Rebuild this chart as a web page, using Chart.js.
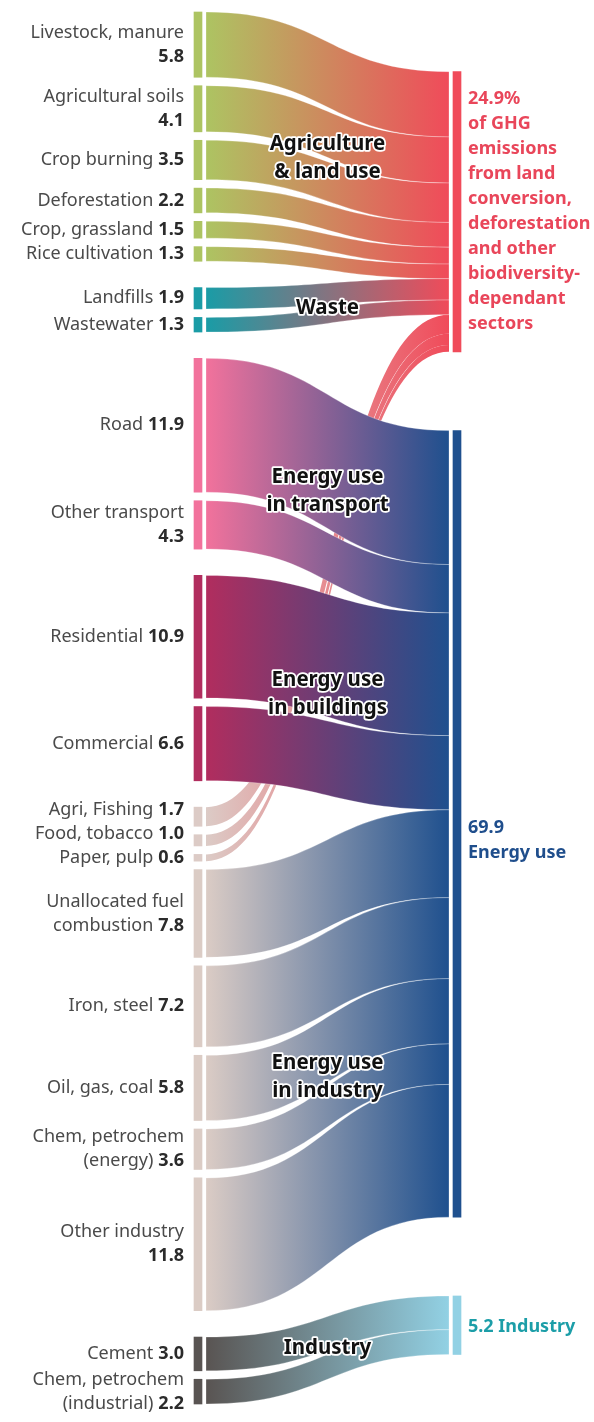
<!DOCTYPE html>
<html>
<head>
<meta charset="utf-8">
<script src="https://cdn.jsdelivr.net/npm/chart.js@4.4.1/dist/chart.umd.min.js"></script>
<style>
  html, body { margin: 0; padding: 0; background: #fff; }
  canvas { display: block; }
</style>
</head>
<body>
<canvas id="chart" width="594" height="1422"></canvas>
<script>
// GHG emissions by source (%) flowing into three totals

const leftNames = [
  'Livestock, manure\n', 'Agricultural soils\n', 'Crop burning', 'Deforestation',
  'Crop, grassland', 'Rice cultivation',
  'Landfills', 'Wastewater',
  'Road', 'Other transport\n',
  'Residential', 'Commercial',
  'Agri, Fishing', 'Food, tobacco', 'Paper, pulp',
  'Unallocated fuel\ncombustion', 'Iron, steel', 'Oil, gas, coal',
  'Chem, petrochem\n(energy)', 'Other industry\n',
  'Cement', 'Chem, petrochem\n(industrial)'
];
const leftValues = [
  5.8, 4.1, 3.5, 2.2, 1.5, 1.3,
  1.9, 1.3,
  11.9, 4.3,
  10.9, 6.6,
  1.7, 1.0, 0.6,
  7.8, 7.2, 5.8, 3.6, 11.8,
  3.0, 2.2
];
// which family (middle label / colour) each source belongs to
const leftFamily = [0, 0, 0, 0, 0, 0, 1, 1, 2, 2, 3, 3, 4, 4, 4, 5, 5, 5, 5, 5, 6, 6];
// visual block on the left axis (sources in one block sit closer together)
const leftBlock = [0, 0, 0, 0, 0, 0, 1, 1, 2, 2, 3, 3, 4, 4, 4, 4, 4, 4, 4, 4, 5, 5];
// which total each source flows into
const leftTarget = [0, 0, 0, 0, 0, 0, 0, 0, 1, 1, 1, 1, 0, 0, 0, 1, 1, 1, 1, 1, 2, 2];

const familyNames = [
  'Agriculture\n& land use', 'Waste', 'Energy use\nin transport',
  'Energy use\nin buildings', '', 'Energy use\nin industry', 'Industry'
];
const rightLabels = [
  '{v}%\nof GHG\nemissions\nfrom land\nconversion,\ndeforestation\nand other\nbiodiversity-\ndependant\nsectors',
  '{v}\nEnergy use',
  '{v} Industry'
];

// styles
const familyColors = ['#adc462', '#1a9ca6', '#f2729c', '#b12d5e', '#dccbc6', '#dbccc5', '#595452'];
const rightColors = ['#f04b5a', '#1f508e', '#92d1e4'];
const rightTextColors = ['#e9465a', '#1f4e8c', '#1c9ea8'];
const rightTextShift = [0, 16, 2];
const familyLabelShift = [2, 5, 3, -1, 0, 25, 0];
const GAP_IN = 0.75;    // gap between sources in a block (value units)
const GAP_BLOCK = 2.34; // gap between blocks
const RIGHT_TOP = 5.3;
const RIGHT_GAP = 7.0;
const FONT = '"Noto Sans", "Open Sans", sans-serif';

// stack the sources on the left
const leftSpans = [];
let pos = 0;
leftValues.forEach((v, i) => {
  if (i > 0) pos += leftBlock[i] === leftBlock[i - 1] ? GAP_IN : GAP_BLOCK;
  leftSpans.push([pos, pos + v]);
  pos += v;
});
const yMax = pos;

// totals on the right, flows stacked in source order
const rightTotals = rightLabels.map((_, r) =>
  leftValues.reduce((s, v, i) => s + (leftTarget[i] === r ? v : 0), 0));
const rightSpans = [];
let rpos = RIGHT_TOP;
rightTotals.forEach((t, r) => {
  if (r > 0) rpos += RIGHT_GAP;
  rightSpans.push([rpos, rpos + t]);
  rpos += t;
});
const flowRight = [];
const fill = rightSpans.map(s => s[0]);
leftValues.forEach((v, i) => {
  const r = leftTarget[i];
  flowRight.push([fill[r], fill[r] + v]);
  fill[r] += v;
});

const sankeyPlugin = {
  id: 'sankeyFlows',
  beforeDatasetsDraw(chart) {
    const { ctx, scales: { x, y } } = chart;
    const xl = x.getPixelForValue(0) + 8;
    const xr = x.getPixelForValue(1) - 8;
    const xm = (xl + xr) / 2;
    // pale flows go behind the others
    const order = leftValues.map((_, i) => i)
      .sort((a, b) => (leftFamily[b] === 4) - (leftFamily[a] === 4));
    ctx.save();
    order.forEach(i => {
      const t0 = y.getPixelForValue(leftSpans[i][0]);
      const b0 = y.getPixelForValue(leftSpans[i][1]);
      const t1 = y.getPixelForValue(flowRight[i][0]);
      const b1 = y.getPixelForValue(flowRight[i][1]);
      const grad = ctx.createLinearGradient(xl, 0, xr, 0);
      grad.addColorStop(0, familyColors[leftFamily[i]]);
      grad.addColorStop(1, rightColors[leftTarget[i]]);
      ctx.beginPath();
      ctx.moveTo(xl, t0);
      ctx.bezierCurveTo(xm, t0, xm, t1, xr, t1);
      ctx.lineTo(xr, b1);
      ctx.bezierCurveTo(xm, b1, xm, b0, xl, b0);
      ctx.closePath();
      ctx.fillStyle = grad;
      ctx.fill();
      if (leftFamily[i] !== 4) {
        ctx.strokeStyle = 'rgba(255,255,255,0.45)';
        ctx.lineWidth = 0.6;
        ctx.stroke();
      }
    });
    ctx.restore();
  },
  afterDatasetsDraw(chart) {
    const { ctx, scales: { x, y } } = chart;
    const xl = x.getPixelForValue(0) + 8;
    const xr = x.getPixelForValue(1) - 8;
    ctx.save();

    // family labels in the middle of the flows
    ctx.font = 'bold 20.5px ' + FONT;
    ctx.textAlign = 'center';
    ctx.textBaseline = 'middle';
    ctx.lineJoin = 'round';
    familyNames.forEach((name, f) => {
      if (!name) return;
      const idx = leftValues.map((_, i) => i).filter(i => leftFamily[i] === f);
      const lc = (leftSpans[idx[0]][0] + leftSpans[idx[idx.length - 1]][1]) / 2;
      const rc = (flowRight[idx[0]][0] + flowRight[idx[idx.length - 1]][1]) / 2;
      const cy = y.getPixelForValue((lc + rc) / 2) + familyLabelShift[f];
      const lines = name.split('\n');
      lines.forEach((ln, k) => {
        const ly = cy + (k - (lines.length - 1) / 2) * 28;
        ctx.strokeStyle = '#fff';
        ctx.lineWidth = 3.5;
        ctx.strokeText(ln, (xl + xr) / 2, ly);
        ctx.fillStyle = '#111';
        ctx.fillText(ln, (xl + xr) / 2, ly);
      });
    });

    // source labels, right aligned, nudged apart where they would collide
    const LH = 24;
    const centers = leftSpans.map(s => y.getPixelForValue((s[0] + s[1]) / 2));
    const heights = leftNames.map(n => n.split('\n').length * LH);
    for (let i = centers.length - 2; i >= 0; i--) {
      const limit = centers[i + 1] - heights[i + 1] / 2 - heights[i] / 2;
      if (centers[i] > limit) centers[i] = limit;
    }
    const lx = x.getPixelForValue(0) - 14;
    ctx.textAlign = 'right';
    leftNames.forEach((name, i) => {
      const lines = name.split('\n');
      const val = leftValues[i].toFixed(1);
      lines.forEach((ln, k) => {
        const ly = centers[i] + (k - (lines.length - 1) / 2) * LH;
        let vx = lx;
        if (k === lines.length - 1) {
          ctx.font = 'bold 18px ' + FONT;
          ctx.fillStyle = '#2b2b2b';
          ctx.fillText(val, lx, ly);
          vx = lx - ctx.measureText(val).width - (ln ? 5 : 0);
        }
        if (ln) {
          ctx.font = '18px ' + FONT;
          ctx.fillStyle = '#4a4a4a';
          ctx.fillText(ln, vx, ly);
        }
      });
    });

    // totals on the right
    const rx = x.getPixelForValue(1) + 11;
    ctx.textAlign = 'left';
    ctx.font = 'bold 18px ' + FONT;
    rightLabels.forEach((tpl, r) => {
      const lines = tpl.replace('{v}', rightTotals[r].toFixed(1)).split('\n');
      const cy = y.getPixelForValue((rightSpans[r][0] + rightSpans[r][1]) / 2) + rightTextShift[r];
      ctx.fillStyle = rightTextColors[r];
      lines.forEach((ln, k) => {
        ctx.fillText(ln, rx, cy + (k - (lines.length - 1) / 2) * 25);
      });
    });
    ctx.restore();
  }
};

const ctx = document.getElementById('chart').getContext('2d');
new Chart(ctx, {
  type: 'bar',
  data: {
    datasets: [
      {
        label: 'Sources',
        data: leftSpans.map(s => ({ x: 0, y: s })),
        backgroundColor: leftFamily.map(f => familyColors[f]),
      },
      {
        label: 'Totals',
        data: rightSpans.map(s => ({ x: 1, y: s })),
        backgroundColor: rightColors,
      },
    ],
  },
  options: {
    responsive: false,
    animation: false,
    layout: { padding: { left: 198, right: 137, top: 12, bottom: 18 } },
    datasets: {
      bar: { grouped: false, barThickness: 8, maxBarThickness: 8, borderWidth: 0, clip: false },
    },
    plugins: {
      legend: { display: false },
      tooltip: { enabled: false },
    },
    scales: {
      x: { type: 'linear', min: 0, max: 1, offset: false, display: false },
      y: { type: 'linear', min: 0, max: yMax, reverse: true, display: false },
    },
  },
  plugins: [sankeyPlugin],
});
</script>
</body>
</html>
